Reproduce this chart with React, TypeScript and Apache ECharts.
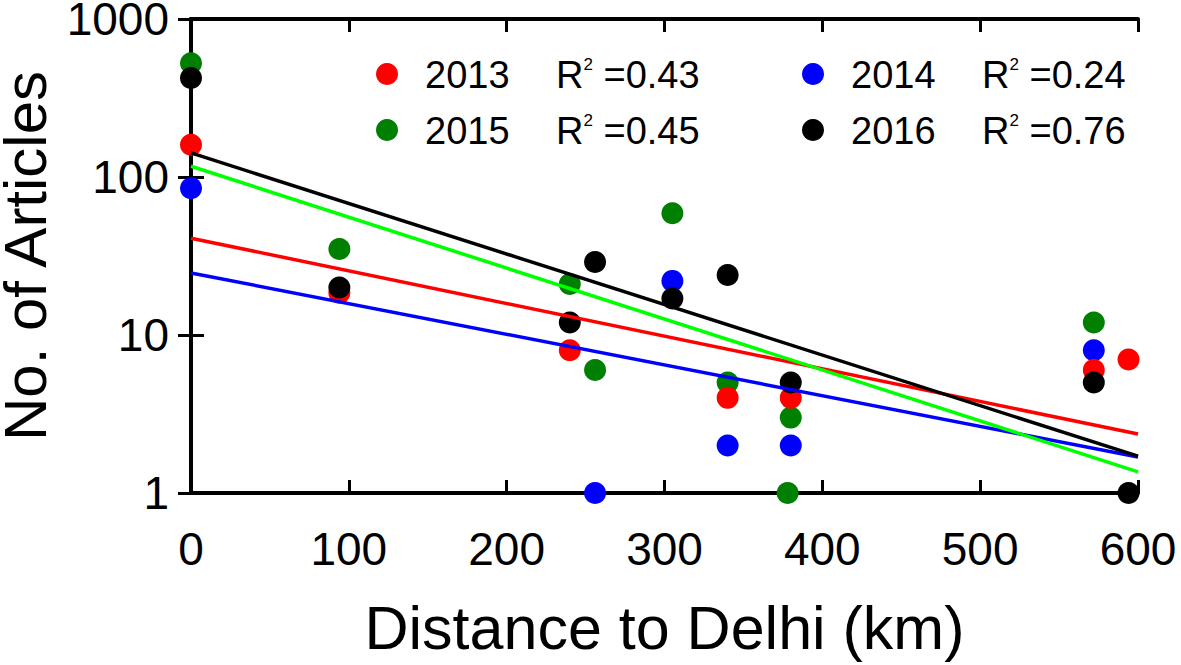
import React, { useEffect, useRef } from "react";
import * as echarts from "echarts";

const years = ["2013", "2014", "2015", "2016"];
const pointColors = ["#ff0000", "#0000ff", "#008000", "#000000"];
const lineColors = ["#ff0000", "#0000ff", "#00ff00", "#000000"];
const r2Values = ["0.43", "0.24", "0.45", "0.76"];

const dist2013 = [0, 94, 240, 340, 380, 572, 594];
const count2013 = [160, 18.5, 8, 4, 4, 6, 7];
const dist2014 = [0, 256, 305, 340, 380, 572];
const count2014 = [85, 1, 22, 2, 2, 8];
const dist2015 = [0, 94, 240, 256, 305, 340, 380, 378, 572];
const count2015 = [525, 35, 21, 6, 59, 5, 3, 1, 12];
const dist2016 = [0, 94, 240, 256, 305, 340, 380, 572, 594];
const count2016 = [423, 20, 12, 29, 17, 24, 5, 5, 1];

const fitX = [0, 600];
const fitStart = [41, 24.7, 117, 142];
const fitEnd = [2.36, 1.69, 1.36, 1.71];

const xTickLabels = ["0", "100", "200", "300", "400", "500", "600"];
const yTickLabels = ["1", "10", "100", "1000"];

const FONT = "'Liberation Sans', Arial, Helvetica, sans-serif";

export default function App() {
  const ref = useRef<HTMLDivElement>(null);
  useEffect(() => {
    if (!ref.current) return;
    const chart = echarts.init(ref.current, undefined, { renderer: "svg" });
    const dists = [dist2013, dist2014, dist2015, dist2016];
    const counts = [count2013, count2014, count2015, count2016];
    const zip = (i: number) => dists[i].map((d, k) => [d, counts[i][k]]);

    const scatterOrder = [2, 1, 0, 3];
    const lineOrder = [1, 0, 2, 3];

    const scatterSeries = scatterOrder.map((i) => ({
      type: "scatter",
      name: years[i],
      data: zip(i),
      symbol: "circle",
      symbolSize: 22,
      clip: false,
      itemStyle: { color: pointColors[i], opacity: 1 },
      z: 2,
    }));
    const lineSeries = lineOrder.map((i) => ({
      type: "line",
      name: "fit " + years[i],
      data: [
        [fitX[0], fitStart[i]],
        [fitX[1], fitEnd[i]],
      ],
      showSymbol: false,
      symbol: "none",
      lineStyle: { color: lineColors[i], width: 3.5 },
      z: 3,
    }));

    const legendPos = [
      { x: 387, y: 74 },
      { x: 813, y: 74 },
      { x: 387, y: 130 },
      { x: 813, y: 130 },
    ];
    const graphics: any[] = [];
    years.forEach((yr, i) => {
      const p = legendPos[i];
      graphics.push({
        type: "circle",
        shape: { cx: p.x, cy: p.y, r: 11 },
        style: { fill: pointColors[i] },
      });
      graphics.push({
        type: "text",
        x: p.x + 38,
        y: p.y + 1,
        style: {
          text: yr,
          font: `38px ${FONT}`,
          fill: "#000",
          verticalAlign: "middle",
          align: "left",
        },
      });
      graphics.push({
        type: "text",
        x: p.x + 169,
        y: p.y + 1,
        style: {
          text: `{r|R}{s|2}{v| =${r2Values[i]}}`,
          verticalAlign: "middle",
          align: "left",
          rich: {
            r: { fontSize: 38, fontFamily: FONT, fill: "#000" },
            s: { fontSize: 17, fontFamily: FONT, fill: "#000", verticalAlign: "top" },
            v: { fontSize: 38, fontFamily: FONT, fill: "#000" },
          },
        },
      });
    });

    const axisLine = { show: true, lineStyle: { color: "#000", width: 4 } };
    const axisTick = { show: true, inside: true, length: 13, lineStyle: { color: "#000", width: 3 } };

    chart.setOption({
      animation: false,
      backgroundColor: "#ffffff",
      grid: {
        left: 191,
        right: 43,
        top: 19,
        bottom: 172,
        containLabel: false,
        outerBoundsMode: "none",
      },
      xAxis: [
        {
          type: "value",
          min: 0,
          max: 600,
          interval: 100,
          position: "bottom",
          axisLine,
          axisTick,
          splitLine: { show: false },
          axisLabel: {
            margin: 33,
            fontSize: 46,
            fontFamily: FONT,
            color: "#000",
            formatter: (v: number) => xTickLabels[Math.round(v / 100)] ?? String(v),
          },
          name: "Distance to Delhi (km)",
          nameLocation: "middle",
          nameGap: 104,
          nameTextStyle: { fontSize: 61, fontFamily: FONT, color: "#000" },
        },
        {
          type: "value",
          min: 0,
          max: 600,
          interval: 100,
          position: "top",
          axisLine,
          axisTick,
          splitLine: { show: false },
          axisLabel: { show: false },
        },
      ],
      yAxis: [
        {
          type: "log",
          logBase: 10,
          min: 1,
          max: 1000,
          position: "left",
          axisLine,
          axisTick,
          minorTick: { show: false },
          splitLine: { show: false },
          axisLabel: {
            margin: 22,
            fontSize: 46,
            fontFamily: FONT,
            color: "#000",
            formatter: (v: number) => yTickLabels[Math.round(Math.log10(v))] ?? String(v),
          },
          name: "No. of Articles",
          nameLocation: "middle",
          nameGap: 136,
          nameRotate: 90,
          nameTextStyle: { fontSize: 60, fontFamily: FONT, color: "#000" },
        },
        {
          type: "log",
          logBase: 10,
          min: 1,
          max: 1000,
          position: "right",
          axisLine,
          axisTick,
          splitLine: { show: false },
          axisLabel: { show: false },
        },
      ],
      graphic: graphics,
      series: [...scatterSeries, ...lineSeries],
    });
    return () => chart.dispose();
  }, []);
  return (
    <div
      ref={ref}
      style={{ position: "fixed", left: 0, top: 0, width: 1181, height: 665, background: "#fff" }}
    />
  );
}
